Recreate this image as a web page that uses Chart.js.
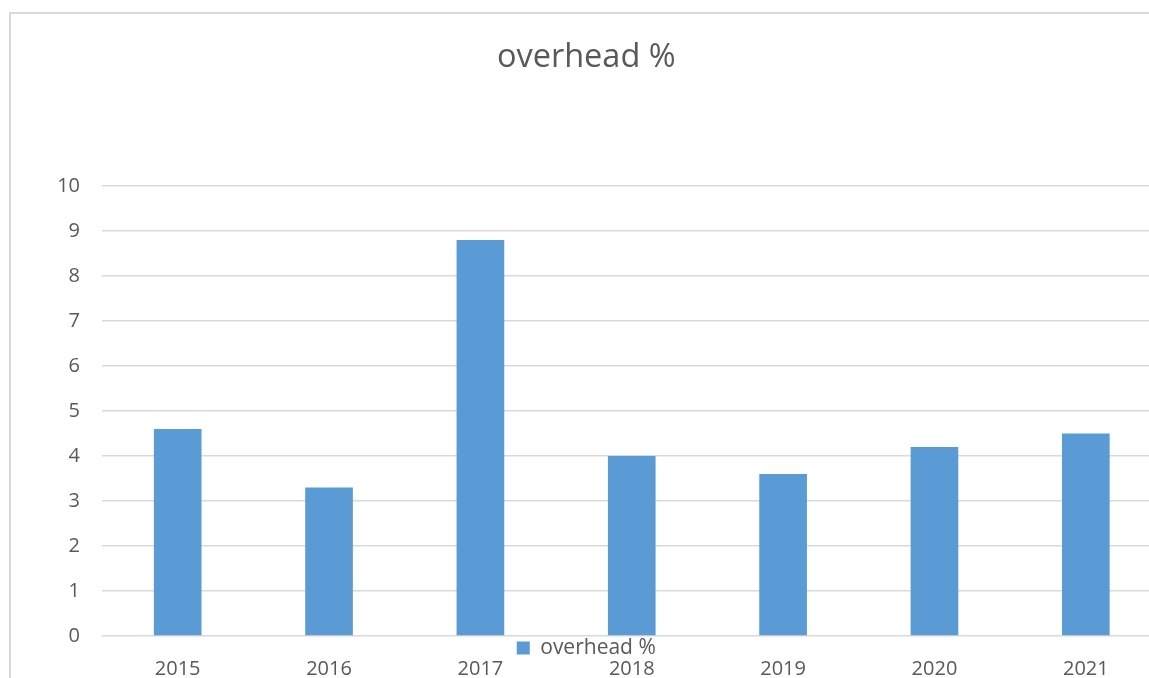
<!DOCTYPE html>
<html>
<head>
<meta charset="utf-8">
<script src="https://cdn.jsdelivr.net/npm/chart.js@4/dist/chart.umd.min.js"></script>
<style>
  html, body { margin: 0; padding: 0; background: #fff; overflow: hidden; }
  .frame {
    position: absolute; left: 9px; top: 12px;
    border-left: 2px solid #d9d9d9; border-top: 2px solid #d9d9d9;
  }
  canvas { display: block; }
</style>
</head>
<body>
<div class="frame">
  <canvas id="chart" width="1160" height="667" style="width:1160px;height:667px"></canvas>
</div>
<script>
// ── data ──
const years = ['2015', '2016', '2017', '2018', '2019', '2020', '2021'];
const overhead = [4.6, 3.3, 8.8, 4.0, 3.6, 4.2, 4.5];
const yTicks = [0, 1, 2, 3, 4, 5, 6, 7, 8, 9, 10];

const textColor = '#595959';
const gridColor = '#d9d9d9';

new Chart(document.getElementById('chart'), {
  type: 'bar',
  data: {
    labels: years,
    datasets: [{
      label: 'overhead %',
      data: overhead,
      backgroundColor: '#5b9bd5',
      borderWidth: 0,
      categoryPercentage: 1,
      barPercentage: 0.315
    }]
  },
  options: {
    responsive: false,
    animation: false,
    layout: { padding: { left: 0, right: 9.5, top: 0, bottom: 0 } },
    plugins: {
      title: {
        display: true,
        text: 'overhead %',
        color: textColor,
        font: { family: 'Open Sans', size: 32.5, weight: 'normal', lineHeight: 1.2 },
        padding: { top: 24, bottom: 109 }
      },
      legend: {
        position: 'bottom',
        weight: -1,          // sit between plot and year labels
        maxHeight: 21,
        labels: {
          color: textColor,
          boxWidth: 13,
          boxHeight: 13,
          padding: 1.5,
          font: { family: 'Open Sans', size: 21 }
        }
      },
      tooltip: { enabled: false }
    },
    scales: {
      x: {
        grid: { display: false, drawTicks: false },
        border: { display: false },
        ticks: {
          color: textColor,
          padding: 0,
          font: { family: 'Open Sans', size: 20, lineHeight: 1.2 }
        }
      },
      y: {
        min: 0,
        max: 10,
        afterFit: axis => { axis.width = 91; },
        afterBuildTicks: axis => { axis.ticks = yTicks.map(v => ({ value: v })); },
        grid: { color: gridColor, lineWidth: 1.5, drawTicks: false },
        border: { display: false },
        ticks: {
          color: textColor,
          padding: 22,
          font: { family: 'Open Sans', size: 20 }
        }
      }
    }
  }
});
</script>
</body>
</html>
